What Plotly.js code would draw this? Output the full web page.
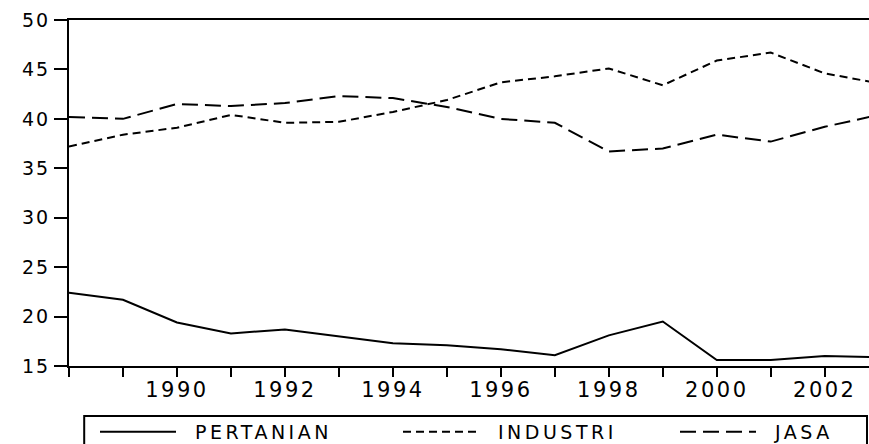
<!DOCTYPE html>
<html>
<head>
<meta charset="utf-8">
<script src="https://cdn.plot.ly/plotly-3.0.1.min.js"></script>
<style>
  html, body { margin: 0; padding: 0; background: #fff; }
  #chart { width: 869px; height: 444px; }
  .xtick text { letter-spacing: 2.5px; }
  .ytick text { letter-spacing: 2px; }
  .main-svg .infolayer text { letter-spacing: 3.5px; transform: translateX(14px); }
</style>
</head>
<body>
<div id="chart"></div>
<script>
// Data
const years = [1988, 1989, 1990, 1991, 1992, 1993, 1994, 1995, 1996, 1997, 1998, 1999, 2000, 2001, 2002, 2003];
const pertanian = [22.4, 21.7, 19.4, 18.3, 18.7, 18.0, 17.3, 17.1, 16.7, 16.1, 18.1, 19.5, 15.6, 15.6, 16.0, 15.9];
const industri  = [37.2, 38.4, 39.1, 40.4, 39.6, 39.7, 40.7, 41.9, 43.7, 44.3, 45.1, 43.4, 45.9, 46.7, 44.6, 43.6];
const jasa      = [40.2, 40.0, 41.5, 41.3, 41.6, 42.3, 42.1, 41.2, 40.0, 39.6, 36.7, 37.0, 38.4, 37.7, 39.2, 40.4];
const seriesNames = ['PERTANIAN', 'INDUSTRI', 'JASA'];
const xTickVals = [1990, 1992, 1994, 1996, 1998, 2000, 2002];
const yTickVals = [15, 20, 25, 30, 35, 40, 45, 50];

const fontFam = 'DejaVu Sans, Arial, sans-serif';

const traces = [
  { x: years, y: pertanian, name: seriesNames[0], type: 'scatter', mode: 'lines', legend: 'legend',
    line: { color: '#000', width: 2 } },
  { x: years, y: industri, name: seriesNames[1], type: 'scatter', mode: 'lines', legend: 'legend2',
    line: { color: '#000', width: 2, dash: '8px,5px' } },
  { x: years, y: jasa, name: seriesNames[2], type: 'scatter', mode: 'lines', legend: 'legend3',
    line: { color: '#000', width: 2, dash: '16px,7px' } }
];

function leg(xpx, w) {
  return {
    orientation: 'h',
    xref: 'container', yref: 'container',
    x: xpx / 869, y: (444 - 432) / 444, xanchor: 'left', yanchor: 'middle',
    itemwidth: 76, entrywidth: w, entrywidthmode: 'pixels',
    font: { family: fontFam, size: 19, color: '#000' },
    bgcolor: 'rgba(0,0,0,0)', borderwidth: 0
  };
}

const layout = {
  width: 869, height: 444,
  margin: { l: 69, r: 0, t: 20, b: 78 },
  paper_bgcolor: '#fff', plot_bgcolor: '#fff',
  font: { family: fontFam, color: '#000', size: 17 },
  showlegend: true,
  legend: leg(95, 280),
  legend2: leg(398, 250),
  legend3: leg(675, 180),
  xaxis: {
    range: [1988, 2002.82],
    tickmode: 'array', tickvals: xTickVals, ticktext: xTickVals.map(String),
    ticks: 'outside', ticklen: 9, tickwidth: 2, tickcolor: '#000',
    minor: { dtick: 1, tick0: 1988, ticks: 'outside', ticklen: 9, tickwidth: 2, tickcolor: '#000', showgrid: false },
    showline: true, linecolor: '#000', linewidth: 2, mirror: true,
    showgrid: false, zeroline: false,
    ticklabelstandoff: -5,
    tickfont: { family: fontFam, size: 21, color: '#000' }
  },
  yaxis: {
    range: [15, 50],
    tickmode: 'array', tickvals: yTickVals, ticktext: yTickVals.map(String),
    ticks: 'outside', ticklen: 13, tickwidth: 2, tickcolor: '#000',
    showline: true, linecolor: '#000', linewidth: 2, mirror: true,
    showgrid: false, zeroline: false,
    tickfont: { family: fontFam, size: 19, color: '#000' }
  },
  shapes: [
    { type: 'rect', xref: 'paper', yref: 'paper',
      x0: 0.019, x1: 0.9975, y0: -0.1445, y1: -0.235,
      line: { color: '#000', width: 2 }, fillcolor: 'rgba(0,0,0,0)' }
  ]
};

Plotly.newPlot('chart', traces, layout, { staticPlot: true, displayModeBar: false });
</script>
</body>
</html>
